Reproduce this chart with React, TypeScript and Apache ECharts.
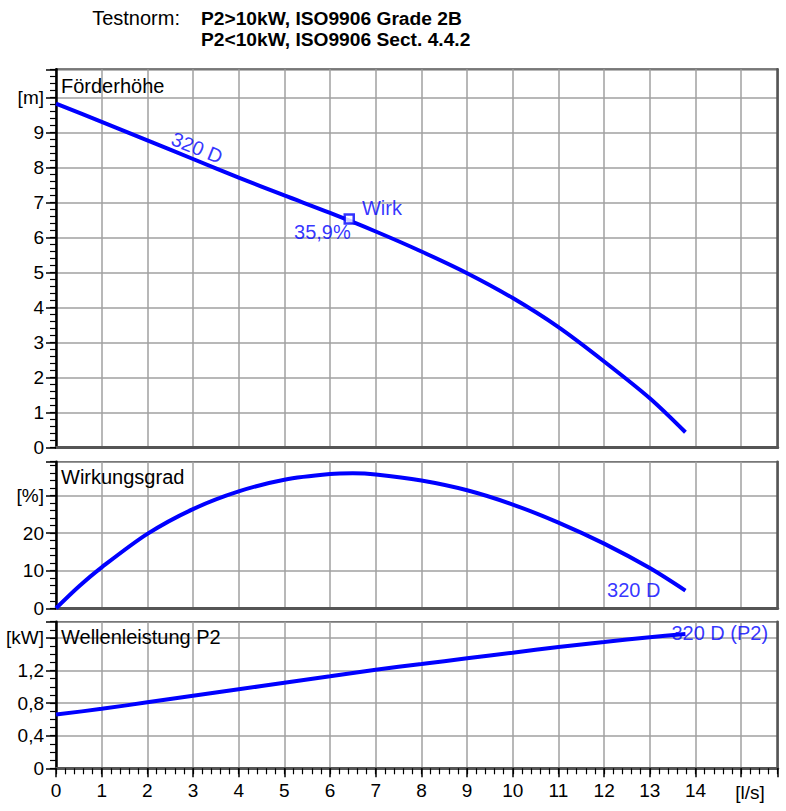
import React, { useEffect, useRef } from 'react';
import * as echarts from 'echarts';

// ---------- data ----------
const curveName = '320 D';
const powerCurveName = '320 D (P2)';

const flowHead = [0, 1, 2, 3, 4, 5, 6, 7, 8, 9, 10, 11, 12, 13, 13.78];
const headM = [9.82, 9.3, 8.77, 8.24, 7.71, 7.2, 6.7, 6.17, 5.6, 4.98, 4.27, 3.44, 2.46, 1.41, 0.44];

const flowEta = [0, 0.5, 1, 2, 3, 4, 5, 6, 6.5, 7, 8, 9, 10, 11, 12, 13, 13.78];
const etaPct = [0, 5.8, 10.9, 19.8, 26.4, 31.1, 34.2, 35.7, 35.9, 35.6, 34.0, 31.4, 27.6, 22.8, 17.2, 10.7, 4.7];

const flowPower = [0, 1, 2, 3, 4, 5, 6, 7, 8, 9, 10, 11, 12, 13, 13.78];
const powerKW = [0.66, 0.73, 0.81, 0.89, 0.97, 1.05, 1.13, 1.21, 1.28, 1.35, 1.42, 1.49, 1.55, 1.61, 1.65];

const dutyPoint = [6.42, 6.53];
const dutyLabel = 'Wirk';
const dutyEtaLabel = '35,9%';
const headLabelAnchor = [3.087, 8.56];

const xTickLabels = ['0', '1', '2', '3', '4', '5', '6', '7', '8', '9', '10', '11', '12', '13', '14'];
const xUnit = '[l/s]';
const headTickLabels = ['0', '1', '2', '3', '4', '5', '6', '7', '8', '9', '[m]'];
const etaTickLabels = ['0', '10', '20', '[%]'];
const powerTickLabels = ['0', '0,4', '0,8', '1,2', '[kW]'];

const headerLabel = 'Testnorm:';
const headerLine1 = 'P2>10kW, ISO9906 Grade 2B';
const headerLine2 = 'P2<10kW, ISO9906 Sect. 4.4.2';
const panelTitles = ['Förderhöhe', 'Wirkungsgrad', 'Wellenleistung P2'];

// ---------- styles ----------
const FONT = '"Liberation Sans", Arial, Helvetica, sans-serif';
const FS = 19;
const FS_TEXT = 20;
const BLUE = '#0000ff';
const GRID_COLOR = '#a0a0a0';
const X_MAX = 15.8;

const zip = (a: number[], b: number[]) => a.map((v, i) => [v, b[i]]);

export default function App() {
  const ref = useRef<HTMLDivElement>(null);

  useEffect(() => {
    if (!ref.current) return;
    const chart = echarts.init(ref.current, undefined, { renderer: 'svg' });

    const gridBox = (top: number, height: number) => ({
      left: 56,
      right: 786 - 777.7,
      top,
      height,
      show: true,
      borderColor: '#000',
      borderWidth: 1.5,
      backgroundColor: 'transparent',
      containLabel: false,
    });

    const labelStyle = { fontSize: FS, fontFamily: FONT, color: '#000' };

    const xMajor = (gridIndex: number, labels: boolean) => ({
      type: 'value',
      gridIndex,
      position: 'bottom',
      min: 0,
      max: X_MAX,
      interval: 1,
      axisLine: { show: true, onZero: false, lineStyle: { color: '#555', width: 3 } },
      axisTick: { show: labels, length: 9, lineStyle: { color: '#000', width: 1.5 } },
      axisLabel: {
        show: labels,
        margin: 13,
        ...labelStyle,
        formatter: (v: number) => {
          const i = Math.round(v);
          return Math.abs(v - i) < 1e-6 && i < xTickLabels.length ? xTickLabels[i] : '';
        },
      },
      splitLine: { show: true, lineStyle: { color: GRID_COLOR, width: 1.5 } },
    });

    const xMinor = (gridIndex: number) => ({
      type: 'value',
      gridIndex,
      position: 'bottom',
      min: 0,
      max: X_MAX,
      interval: 0.2,
      axisLine: { show: false, onZero: false },
      axisTick: { show: true, length: 6, lineStyle: { color: '#000', width: 1.2 } },
      axisLabel: { show: false },
      splitLine: { show: false },
    });

    const yMajor = (gridIndex: number, max: number, interval: number, labels: string[]) => ({
      type: 'value',
      gridIndex,
      position: 'left',
      min: 0,
      max,
      interval,
      axisLine: { show: true, onZero: false, lineStyle: { color: '#000', width: 2.5 } },
      axisTick: { show: true, length: 10, lineStyle: { color: '#000', width: 1.5 } },
      axisLabel: {
        show: true,
        margin: 12,
        ...labelStyle,
        formatter: (v: number) => {
          const i = Math.round(v / interval);
          return Math.abs(v / interval - i) < 1e-6 && i < labels.length ? labels[i] : '';
        },
      },
      splitLine: { show: true, lineStyle: { color: GRID_COLOR, width: 1.5 } },
    });

    const yMinor = (gridIndex: number, max: number, interval: number) => ({
      type: 'value',
      gridIndex,
      position: 'left',
      min: 0,
      max,
      interval,
      axisLine: { show: false, onZero: false },
      axisTick: { show: true, length: 6, lineStyle: { color: '#000', width: 1.2 } },
      axisLabel: { show: false },
      splitLine: { show: false },
    });

    const yRight = (gridIndex: number, max: number) => ({
      type: 'value',
      gridIndex,
      position: 'right',
      min: 0,
      max,
      axisLine: { show: true, onZero: false, lineStyle: { color: '#555', width: 2.5 } },
      axisTick: { show: false },
      axisLabel: { show: false },
      splitLine: { show: false },
    });

    const curve = (xi: number, yi: number, xs: number[], ys: number[]) => ({
      type: 'line',
      xAxisIndex: xi,
      yAxisIndex: yi,
      data: zip(xs, ys),
      smooth: 0.3,
      symbol: 'none',
      lineStyle: { color: BLUE, width: 4 },
      z: 5,
      silent: true,
    });

    const textLabel = (xi: number, yi: number, pt: number[], label: any) => ({
      type: 'scatter',
      xAxisIndex: xi,
      yAxisIndex: yi,
      data: [pt],
      symbolSize: 1,
      itemStyle: { color: 'rgba(0,0,0,0)' },
      label: { show: true, fontSize: FS_TEXT, fontFamily: FONT, color: BLUE, ...label },
      z: 6,
      silent: true,
    });

    const last = (a: number[]) => a[a.length - 1];

    const txt = (text: string, x: number, y: number, extra: any = {}) => ({
      type: 'text',
      x,
      y,
      z: 10,
      style: {
        text,
        fill: '#000',
        fontSize: FS_TEXT,
        fontFamily: FONT,
        align: 'left',
        verticalAlign: 'middle',
        ...extra,
      },
    });

    chart.setOption({
      animation: false,
      backgroundColor: '#fff',
      grid: [gridBox(69.3, 378.4), gridBox(461.7, 146.6), gridBox(621.7, 146.6)],
      xAxis: [xMajor(0, false), xMajor(1, false), xMajor(2, true), xMinor(2)],
      yAxis: [
        yMajor(0, 10.8, 1, headTickLabels),
        yMinor(0, 10.8, 0.2),
        yRight(0, 10.8),
        yMajor(1, 39, 10, etaTickLabels),
        yMinor(1, 39, 2),
        yRight(1, 39),
        yMajor(2, 1.8, 0.4, powerTickLabels),
        yMinor(2, 1.8, 0.1),
        yRight(2, 1.8),
      ],
      series: [
        curve(0, 0, flowHead, headM),
        textLabel(0, 0, headLabelAnchor, {
          formatter: curveName,
          position: 'inside',
          rotate: -22,
        }),
        textLabel(0, 0, dutyPoint, {
          formatter: dutyEtaLabel,
          position: [2, 14],
          align: 'right',
          verticalAlign: 'middle',
        }),
        {
          type: 'scatter',
          xAxisIndex: 0,
          yAxisIndex: 0,
          data: [dutyPoint],
          symbol: 'rect',
          symbolSize: 9,
          itemStyle: { color: '#fff', borderColor: BLUE, borderWidth: 2.5 },
          label: {
            show: true,
            formatter: dutyLabel,
            position: [18.5, -5],
            align: 'left',
            verticalAlign: 'middle',
            fontSize: FS_TEXT,
            fontFamily: FONT,
            color: BLUE,
          },
          z: 7,
          silent: true,
        },
        curve(1, 3, flowEta, etaPct),
        textLabel(1, 3, [last(flowEta), last(etaPct)], {
          formatter: curveName,
          position: 'left',
          distance: 24.5,
          offset: [0, -1],
        }),
        curve(2, 6, flowPower, powerKW),
        textLabel(2, 6, [last(flowPower), last(powerKW)], {
          formatter: powerCurveName,
          position: 'right',
          distance: 0,
          offset: [-14.5, -1],
        }),
      ],
      graphic: [
        txt(headerLabel, 180, 18, { align: 'right' }),
        txt(headerLine1, 201, 18, { fontWeight: 'bold', fontSize: 19.2 }),
        txt(headerLine2, 201, 39, { fontWeight: 'bold', fontSize: 19.2 }),
        txt(panelTitles[0], 61, 85.5),
        txt(panelTitles[1], 61, 476.5),
        txt(panelTitles[2], 61, 637),
        txt(xUnit, 750, 792, { align: 'center', fontSize: FS }),
      ],
    });

    return () => chart.dispose();
  }, []);

  return (
    <div
      ref={ref}
      style={{ position: 'absolute', left: 0, top: 0, width: 786, height: 811 }}
    />
  );
}
